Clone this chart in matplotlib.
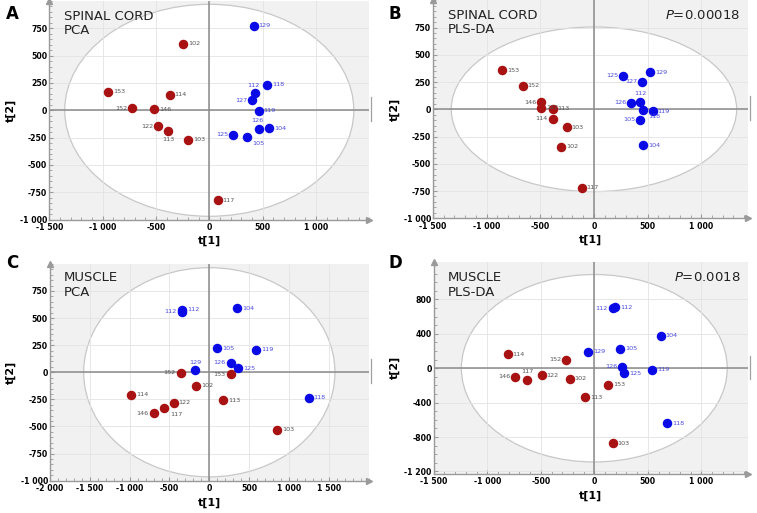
import matplotlib
matplotlib.use("Agg")
import matplotlib.pyplot as plt
from matplotlib.patches import Ellipse
from matplotlib.ticker import FuncFormatter, AutoMinorLocator

# ---------------- data ----------------
# Panel A: spinal cord PCA
a_red_lab = ["153", "102", "114", "152", "146", "122", "113", "103", "117"]
a_red_x = [-950, -245, -370, -720, -515, -480, -385, -200, 80]
a_red_y = [170, 610, 140, 20, 10, -145, -190, -270, -825]
a_blue_lab = ["129", "118", "112", "127", "119", "126", "104", "125", "105"]
a_blue_x = [415, 545, 425, 400, 465, 465, 560, 220, 350]
a_blue_y = [775, 235, 155, 90, -5, -170, -165, -225, -240]

# Panel B: spinal cord PLS-DA
b_red_lab = ["153", "152", "146", "122", "113", "114", "103", "102", "117"]
b_red_x = [-855, -665, -490, -490, -385, -385, -255, -305, -115]
b_red_y = [360, 215, 65, 12, 5, -85, -165, -345, -720]
b_blue_lab = ["125", "129", "127", "112", "126", "118", "119", "105", "104"]
b_blue_x = [273, 525, 450, 432, 348, 457, 547, 429, 457]
b_blue_y = [308, 339, 253, 67, 58, -6, -18, -98, -330]

# Panel C: muscle PCA
c_red_lab = ["152", "153", "102", "114", "113", "122", "117", "146", "103"]
c_red_x = [-359, 268, -167, -982, 176, -447, -565, -698, 853]
c_red_y = [-5, -20, -125, -205, -260, -280, -330, -380, -530]
c_blue_lab = ["112", "112", "104", "105", "119", "126", "125", "129", "118"]
c_blue_x = [-339, -347, 348, 100, 590, 268, 364, -176, 1247]
c_blue_y = [575, 560, 590, 220, 210, 90, 35, 20, -235]

# Panel D: muscle PLS-DA
d_red_lab = ["114", "152", "146", "117", "122", "102", "153", "113", "103"]
d_red_x = [-810, -260, -740, -625, -490, -230, 130, -85, 170]
d_red_y = [160, 100, -100, -135, -80, -120, -190, -340, -875]
d_blue_lab = ["112", "112", "104", "105", "129", "126", "125", "119", "118"]
d_blue_x = [170, 195, 620, 240, -60, 260, 280, 540, 680]
d_blue_y = [700, 710, 380, 225, 190, 20, -60, -20, -640]

panel_letters = ["A", "B", "C", "D"]
panel_titles = ["SPINAL CORD\nPCA", "SPINAL CORD\nPLS-DA", "MUSCLE\nPCA", "MUSCLE\nPLS-DA"]
panel_pvalues = [None, "0.00018", None, "0.0018"]
x_label = "t[1]"
y_label = "t[2]"

# ---------------- styling / layout ----------------
RED = "#a91212"
BLUE = "#0a0ae6"
RED_TXT = "#555555"
BLUE_TXT = "#4a4ae0"

# label placement overrides: (panel, group, index) -> side
label_side = {
    ("A", "r", 3): "left", ("A", "r", 5): "left", ("A", "r", 6): "below",
    ("A", "b", 2): "aboveleft", ("A", "b", 3): "left", ("A", "b", 5): "aboveleft",
    ("A", "b", 7): "left", ("A", "b", 8): "belowright",
    ("B", "r", 2): "left", ("B", "r", 5): "left",
    ("B", "b", 0): "left", ("B", "b", 2): "left", ("B", "b", 3): "above",
    ("B", "b", 4): "left", ("B", "b", 5): "belowright", ("B", "b", 7): "left",
    ("C", "r", 0): "left", ("C", "r", 1): "left", ("C", "r", 6): "belowright",
    ("C", "r", 7): "left",
    ("C", "b", 1): "left", ("C", "b", 5): "left", ("C", "b", 7): "above",
    ("D", "r", 1): "left", ("D", "r", 2): "left", ("D", "r", 3): "above",
    ("D", "b", 0): "left", ("D", "b", 5): "left",
}
side_offsets = {
    "right": ((3.5, 0), "left", "center"),
    "left": ((-3.5, 0), "right", "center"),
    "below": ((0, -4), "center", "top"),
    "above": ((0, 4), "center", "bottom"),
    "aboveleft": ((-1, 4), "center", "bottom"),
    "belowright": ((4, -3), "left", "top"),
}

fig = plt.figure(figsize=(7.57, 5.13), dpi=100)

rects = [
    [0.0651, 0.572, 0.4227, 0.426],
    [0.572, 0.5745, 0.416, 0.425],
    [0.066, 0.063, 0.421, 0.4226],
    [0.573, 0.076, 0.415, 0.414],
]
xlims = [(-1500, 1500), (-1500, 1435), (-2000, 2000), (-1500, 1435)]
ylims = [(-1000, 1000), (-1000, 1000), (-1000, 1000), (-1230, 1240)]
xticks_all = [
    [-1500, -1000, -500, 0, 500, 1000],
    [-1500, -1000, -500, 0, 500, 1000],
    [-2000, -1500, -1000, -500, 0, 500, 1000, 1500],
    [-1500, -1000, -500, 0, 500, 1000],
]
yticks_all = [
    [-1000, -750, -500, -250, 0, 250, 500, 750],
    [-1000, -750, -500, -250, 0, 250, 500, 750],
    [-1000, -750, -500, -250, 0, 250, 500, 750],
    [-1200, -800, -400, 0, 400, 800],
]
ellipses = [(1355, 970), (1330, 755), (1577, 965), (1242, 1090)]
title_pos = [(0.046, 0.96), (0.048, 0.96), (0.044, 0.965), (0.045, 0.955)]
letter_pos = [(0.008, 0.99), (0.513, 0.99), (0.008, 0.505), (0.513, 0.505)]

data = [
    (a_red_lab, a_red_x, a_red_y, a_blue_lab, a_blue_x, a_blue_y),
    (b_red_lab, b_red_x, b_red_y, b_blue_lab, b_blue_x, b_blue_y),
    (c_red_lab, c_red_x, c_red_y, c_blue_lab, c_blue_x, c_blue_y),
    (d_red_lab, d_red_x, d_red_y, d_blue_lab, d_blue_x, d_blue_y),
]


def fmt(v, pos):
    s = f"{abs(int(round(v))):,}".replace(",", " ")
    return ("-" if v < 0 else "") + s


for i, ax_rect in enumerate(rects):
    ax = fig.add_axes(ax_rect)
    P = panel_letters[i]
    rl, rx, ry, bl, bx, by = data[i]
    ax.set_xlim(*xlims[i])
    ax.set_ylim(*ylims[i])
    ax.set_facecolor("#f1f1f1")
    ax.set_axisbelow(True)
    ew, eh = ellipses[i]
    ax.add_patch(Ellipse((0, 0), 2 * ew, 2 * eh, facecolor="white",
                         edgecolor="#c8c8c8", lw=0.9, zorder=0.3))
    ax.grid(True, color="#e3e3e3", lw=0.6)
    ax.axhline(0, color="#8a8a8a", lw=1.1, zorder=1)
    ax.axvline(0, color="#8a8a8a", lw=1.1, zorder=1)

    for s in ["top", "right"]:
        ax.spines[s].set_visible(False)
    for s in ["left", "bottom"]:
        ax.spines[s].set_color("#9a9a9a")
        ax.spines[s].set_linewidth(1.0)
    ax.plot([1.0], [0.0], marker=">", color="#9a9a9a", ms=5,
            transform=ax.transAxes, clip_on=False, zorder=3)
    ax.plot([0.0], [1.0], marker="^", color="#9a9a9a", ms=5,
            transform=ax.transAxes, clip_on=False, zorder=3)
    # small bracket at right edge near y=0
    y0 = (0 - ylims[i][0]) / (ylims[i][1] - ylims[i][0])
    ax.plot([1.006, 1.006], [y0 - 0.05, y0 + 0.06], color="#a0a0a0", lw=0.9,
            transform=ax.transAxes, clip_on=False)

    ax.set_xticks(xticks_all[i])
    ax.set_yticks(yticks_all[i])
    ax.xaxis.set_major_formatter(FuncFormatter(fmt))
    ax.yaxis.set_major_formatter(FuncFormatter(fmt))
    ax.xaxis.set_minor_locator(AutoMinorLocator(5))
    ax.yaxis.set_minor_locator(AutoMinorLocator(5 if i != 3 else 4))
    ax.tick_params(which="major", direction="in", length=3, color="#9a9a9a",
                   labelsize=5.6)
    ax.tick_params(axis="x", which="major", pad=2.5)
    ax.tick_params(axis="y", which="major", pad=1.5)
    ax.tick_params(which="minor", direction="in", length=2, color="#9a9a9a")
    for lab in ax.get_xticklabels() + ax.get_yticklabels():
        lab.set_fontweight("bold")
    ax.set_xlabel(x_label, fontsize=8, fontweight="bold", labelpad=3)
    ax.set_ylabel(y_label, fontsize=8, fontweight="bold", labelpad=3)

    ax.scatter(rx, ry, s=34, color=RED, edgecolors=RED, zorder=4)
    ax.scatter(bx, by, s=34, color=BLUE, edgecolors=BLUE, zorder=4)
    for grp, labs, xs, ys, tc in (("r", rl, rx, ry, RED_TXT), ("b", bl, bx, by, BLUE_TXT)):
        for k, (t, xv, yv) in enumerate(zip(labs, xs, ys)):
            side = label_side.get((P, grp, k), "right")
            off, ha, va = side_offsets[side]
            ax.annotate(t, (xv, yv), xytext=off, textcoords="offset points",
                        ha=ha, va=va, fontsize=4.6, color=tc, zorder=5)

    tx, ty = title_pos[i]
    ax.text(tx, ty, panel_titles[i], transform=ax.transAxes, ha="left", va="top",
            fontsize=9.5, color="#222222", linespacing=1.15, zorder=6)
    if panel_pvalues[i] is not None:
        ax.text(0.975, ty, r"$\mathit{P}$=" + panel_pvalues[i], transform=ax.transAxes,
                ha="right", va="top", fontsize=9.5, color="#222222", zorder=6)
    lx, ly = letter_pos[i]
    fig.text(lx, ly, P, ha="left", va="top", fontsize=12, fontweight="bold")

fig.savefig("out.png", dpi=100)
